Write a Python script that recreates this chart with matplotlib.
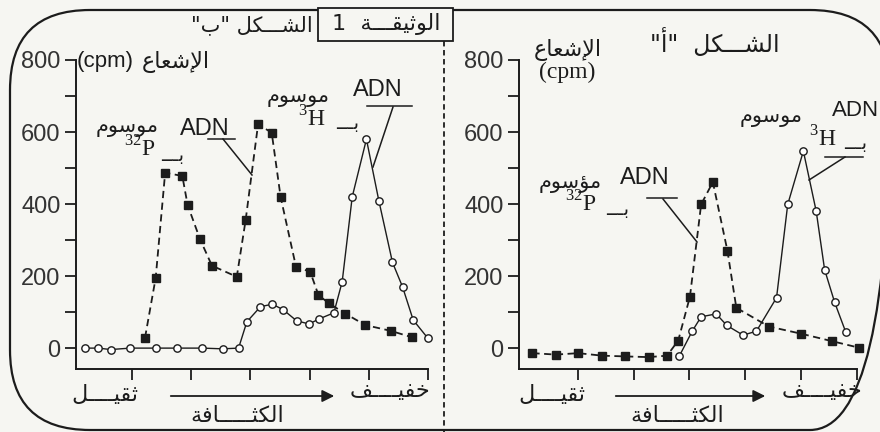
import matplotlib
matplotlib.use("Agg")
import matplotlib.pyplot as plt
from matplotlib.patches import FancyBboxPatch, Rectangle

# ── Data (x = fraction position, ticks at 1..6) ──
# Figure "ب" (left panel)
b_h3_x  = [0.21, 0.43, 0.64, 0.97, 1.41, 1.76, 2.19, 2.53, 2.80, 2.94, 3.17, 3.37,
           3.55, 3.78, 3.99, 4.16, 4.41, 4.55, 4.72, 4.96, 5.17, 5.40, 5.57, 5.75, 6.00]
b_h3_y  = [0, 0, -4, 0, 0, 0, 0, -2, 0, 73, 115, 122,
           107, 76, 67, 81, 98, 184, 420, 580, 409, 238, 170, 78, 27]
b_p32_x = [1.22, 1.40, 1.56, 1.85, 1.94, 2.15, 2.35, 2.77, 2.92, 3.13, 3.36, 3.51,
           3.77, 4.01, 4.15, 4.33, 4.60, 4.94, 5.37, 5.73]
b_p32_y = [29, 195, 487, 478, 397, 302, 229, 198, 356, 622, 598, 420,
           226, 212, 147, 124, 96, 64, 48, 30]

# Figure "أ" (right panel)
a_h3_x  = [2.82, 3.05, 3.21, 3.48, 3.67, 3.96, 4.20, 4.56, 4.76, 5.04, 5.27, 5.42, 5.60, 5.80]
a_h3_y  = [-22, 47, 87, 95, 63, 36, 47, 140, 399, 547, 380, 218, 127, 44]
a_p32_x = [0.19, 0.61, 1.01, 1.44, 1.84, 2.27, 2.60, 2.80, 3.01, 3.21, 3.42,
           3.68, 3.84, 4.42, 5.00, 5.56, 6.04]
a_p32_y = [-14, -18, -14, -21, -23, -25, -21, 21, 143, 399, 461,
           271, 112, 60, 40, 19, 1]

y_major = [0, 200, 400, 600, 800]
y_minor = [100, 300, 500, 700]
x_ticks = [1, 2, 3, 4, 5, 6]

# Arabic text in presentation forms, visual (left-to-right) order
T_FIG_B  = '"\uFE8F" \uFEDE\uFEDC\u0640\u0640\u0640\uFEB8\uFEDF\uFE8D'        # الشـــكل "ب"
T_FIG_A  = '"\uFE83"  \uFEDE\uFEDC\u0640\u0640\u0640\uFEB8\uFEDF\uFE8D'        # الشـــكل "أ"
T_DOC    = '1  \uFE94\u0640\u0640\u0640\uFED8\uFEF4\uFE9B\uFEEE\uFEDF\uFE8D'   # الوثيقـــة 1
T_RAD    = '\uFEC9\uFE8E\uFECC\uFEB7\uFEF9\uFE8D'                              # الإشعاع
T_MARKED = '\uFEE1\uFEEE\uFEB3\uFEEE\uFEE3'                                    # موسوم
T_MARKD2 = '\uFEE1\uFEEE\uFEB3\uFE86\uFEE3'                                    # مؤسوم
T_WITH   = '\u0640\u0640\u0640\uFE91'                                          # بـــ
T_HEAVY  = '\uFEDE\u0640\u0640\u0640\u0640\uFEF4\uFED8\uFE9B'                  # ثقيـــل
T_LIGHT  = '\uFED2\u0640\u0640\u0640\u0640\uFEF4\uFED4\uFEA7'                  # خفيـــف
T_DENS   = '\uFE94\uFED3\uFE8E\u0640\u0640\u0640\u0640\u0640\uFE9C\uFEDC\uFEDF\uFE8D'  # الكثـــافة

INK = "#1c1c1c"
BG  = "#f6f6f2"
AR  = "DejaVu Sans"
SANS = "Liberation Sans"
SERIF = "Liberation Serif"

plt.rcParams["mathtext.fontset"] = "custom"
plt.rcParams["mathtext.rm"] = SERIF

fig = plt.figure(figsize=(8.8, 4.32), dpi=100)
fig.patch.set_facecolor(BG)

# overlay axes in pixel coordinates for frame and annotations
ov = fig.add_axes([0, 0, 1, 1], zorder=0)
ov.set_xlim(0, 880); ov.set_ylim(432, 0); ov.axis("off")
ov.patch.set_alpha(0)


def style_axes(ax, xlim):
    ax.set_facecolor("none")
    ax.set_xlim(*xlim)
    ax.set_ylim(-58, 800)
    for s in ("top", "right"):
        ax.spines[s].set_visible(False)
    for s in ("left", "bottom"):
        ax.spines[s].set_linewidth(1.4)
        ax.spines[s].set_color(INK)
    ax.set_yticks(y_major)
    ax.set_yticks(y_minor, minor=True)
    ax.set_yticklabels([str(v) for v in y_major], fontsize=17, family=SANS, color="#333333")
    ax.set_xticks(x_ticks)
    ax.set_xticklabels([])
    ax.tick_params(axis="both", which="both", direction="out", length=8,
                   width=1.3, color=INK, pad=3)


def draw_series(ax, hx, hy, px, py):
    ax.plot(px, py, ls=(0, (4, 2.5)), lw=1.3, color=INK, marker="s", ms=5.2,
            mfc=INK, mec=INK, clip_on=False, zorder=3)
    ax.plot(hx, hy, ls="-", lw=1.0, color=INK, marker="o", ms=5.3,
            mfc="white", mec=INK, mew=1.0, clip_on=False, zorder=4)


axb = fig.add_axes([76 / 880, 63 / 432, 352 / 880, 309 / 432], zorder=2)
style_axes(axb, (0.054, 6.0))
draw_series(axb, b_h3_x, b_h3_y, b_p32_x, b_p32_y)

axa = fig.add_axes([519 / 880, 63 / 432, 338 / 880, 309 / 432], zorder=2)
style_axes(axa, (-0.05, 6.0))
draw_series(axa, a_h3_x, a_h3_y, a_p32_x, a_p32_y)

# ── frame, document box and divider ──
ov.add_patch(FancyBboxPatch((10, 10), 880, 420, boxstyle="round,pad=0,rounding_size=80",
                            fill=False, ec=INK, lw=1.6, clip_on=False))
ov.add_patch(Rectangle((318, 8), 135, 33, fill=True, fc=BG, ec=INK, lw=1.3, zorder=3))
ov.plot([444, 444], [41, 432], ls=(0, (3, 2)), lw=1.3, color=INK)


def t(x, y, s, size=16, fam=AR, **kw):
    ov.text(x, y, s, ha="center", va="center", fontsize=size, family=fam, color=INK, **kw)


def line(xs, ys):
    ov.plot(xs, ys, color=INK, lw=1.1)


# titles
t(252, 25, T_FIG_B, 15)
t(386, 24, T_DOC, 16, zorder=4)
t(715, 43, T_FIG_A, 17)

# y labels
t(105, 62, "(cpm)", 16, SANS)
t(176, 62, T_RAD, 16)
t(568, 50, T_RAD, 16)
t(567, 72, "(cpm)", 17, SERIF)

# left panel callouts
t(127, 127, T_MARKED, 15)
t(205, 129, "ADN", 17, SANS)
t(140, 149, r"$^{32}\mathrm{P}$", 17, SERIF)
t(173, 156, T_WITH, 14)
line([208, 235], [139, 139]); line([223, 252], [139, 175])

t(298, 97, T_MARKED, 15)
t(378, 90, "ADN", 17, SANS)
t(312, 119, r"$^{3}\mathrm{H}$", 17, SERIF)
t(348, 124, T_WITH, 14)
line([367, 412], [106, 106]); line([393, 373], [107, 167])

# right panel callouts
t(570, 183, T_MARKD2, 15)
t(645, 178, "ADN", 17, SANS)
t(581, 204, r"$^{32}\mathrm{P}$", 17, SERIF)
t(618, 210, T_WITH, 14)
line([647, 677], [198, 198]); line([663, 697], [199, 242])

t(771, 117, T_MARKED, 15)
t(856, 110, "ADN", 16, SANS)
t(823, 139, r"$^{3}\mathrm{H}$", 17, SERIF)
t(856, 143, T_WITH, 14)
line([825, 863], [157, 157]); line([845, 809], [157, 180])

# x-axis labels and density arrows
for heavy_x, light_x, dens_x, a0, a1 in [(105, 390, 237, 168, 337), (552, 822, 677, 613, 768)]:
    t(heavy_x, 395, T_HEAVY, 16)
    t(light_x, 391, T_LIGHT, 16)
    t(dens_x, 416, T_DENS, 16)
    ov.annotate("", xy=(a1, 396), xytext=(a0, 396),
                arrowprops=dict(arrowstyle="-|>", lw=1.3, color=INK, mutation_scale=18))

fig.savefig("out.png", dpi=100, facecolor=BG)
